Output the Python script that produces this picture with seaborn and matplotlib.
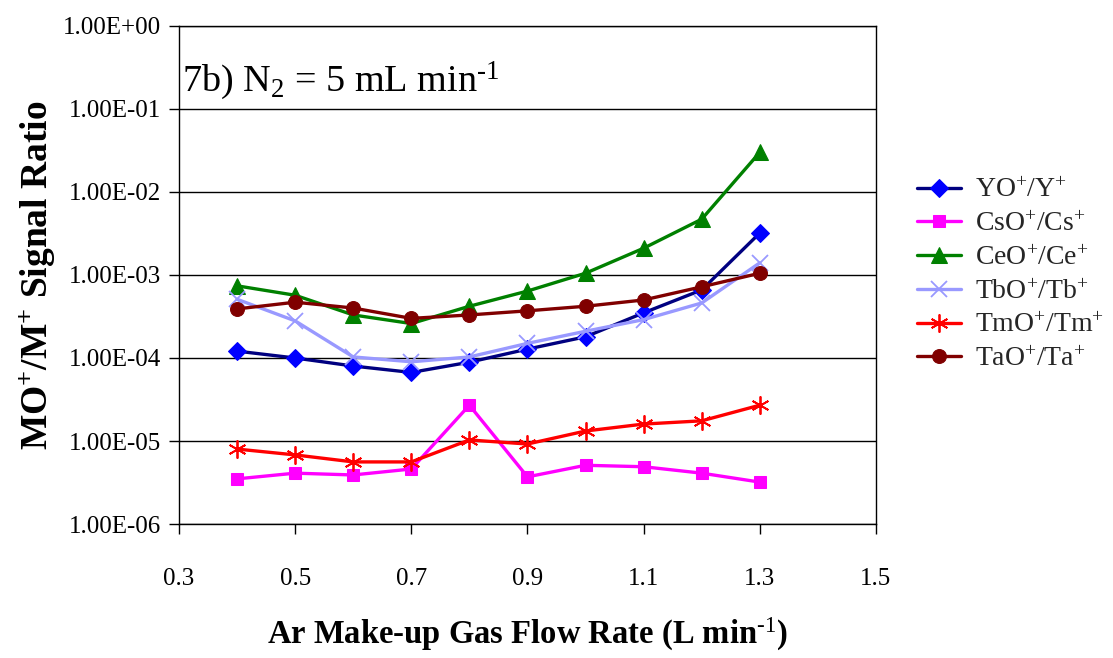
import numpy as np
import pandas as pd
import matplotlib
matplotlib.use("Agg")
import matplotlib.pyplot as plt
import seaborn as sns
from matplotlib.ticker import FixedLocator, FuncFormatter

# Ar make-up gas flow rate (L/min)
flow = [0.4, 0.5, 0.6, 0.7, 0.8, 0.9, 1.0, 1.1, 1.2, 1.3]

# Oxide ratio MO+/M+ for each element
yo = [1.21e-4, 1.0e-4, 8.0e-5, 6.7e-5, 8.9e-5, 1.28e-4, 1.8e-4, 3.5e-4, 6.6e-4, 3.2e-3]
cso = [3.5e-6, 4.1e-6, 3.9e-6, 4.6e-6, 2.7e-5, 3.7e-6, 5.1e-6, 4.9e-6, 4.1e-6, 3.2e-6]
ceo = [7.4e-4, 5.7e-4, 3.3e-4, 2.6e-4, 4.2e-4, 6.4e-4, 1.05e-3, 2.1e-3, 4.7e-3, 3.0e-2]
tbo = [5.1e-4, 2.8e-4, 1.03e-4, 9.0e-5, 1.03e-4, 1.5e-4, 2.1e-4, 2.9e-4, 4.6e-4, 1.4e-3]
tmo = [8.0e-6, 6.8e-6, 5.6e-6, 5.6e-6, 1.03e-5, 9.2e-6, 1.32e-5, 1.6e-5, 1.75e-5, 2.7e-5]
tao = [3.9e-4, 4.7e-4, 4.0e-4, 3.0e-4, 3.3e-4, 3.7e-4, 4.2e-4, 5.0e-4, 7.2e-4, 1.05e-3]

labels = [r"YO$^{+}$/Y$^{+}$", r"CsO$^{+}$/Cs$^{+}$", r"CeO$^{+}$/Ce$^{+}$",
          r"TbO$^{+}$/Tb$^{+}$", r"TmO$^{+}$/Tm$^{+}$", r"TaO$^{+}$/Ta$^{+}$"]
values = [yo, cso, ceo, tbo, tmo, tao]

x_ticks = [0.3, 0.5, 0.7, 0.9, 1.1, 1.3, 1.5]
y_ticks = [1e-6, 1e-5, 1e-4, 1e-3, 1e-2, 1e-1, 1e0]

styles = [
    dict(color="#000080", marker="D", markerfacecolor="#0000FF", markeredgecolor="#0000FF", markersize=9),
    dict(color="#FF00FF", marker="s", markerfacecolor="#FF00FF", markeredgecolor="#FF00FF", markersize=9),
    dict(color="#008000", marker="^", markerfacecolor="#008000", markeredgecolor="#008000", markersize=11),
    dict(color="#9999FF", marker="x", markerfacecolor="#9999FF", markeredgecolor="#9999FF", markersize=11, markeredgewidth=1.3),
    dict(color="#FF0000", marker=(6, 2, 0), markerfacecolor="#FF0000", markeredgecolor="#FF0000", markersize=13, markeredgewidth=1.3),
    dict(color="#800000", marker="o", markerfacecolor="#800000", markeredgecolor="#800000", markersize=10),
]

sns.set_theme(style="white")
plt.rcParams["font.family"] = ["Liberation Serif", "DejaVu Serif"]
plt.rcParams["mathtext.fontset"] = "custom"
plt.rcParams["mathtext.rm"] = "Liberation Serif"
plt.rcParams["mathtext.it"] = "Liberation Serif:italic"
plt.rcParams["mathtext.bf"] = "Liberation Serif:bold"
plt.rcParams["mathtext.default"] = "regular"

fig = plt.figure(figsize=(11.13, 6.58), dpi=100)
ax = fig.add_axes([0.1608, 0.2036, 0.6262, 0.757])

df = pd.DataFrame({"flow": np.tile(flow, len(labels)),
                   "ratio": np.concatenate(values),
                   "series": np.repeat(labels, len(flow))})

for lab, st in zip(labels, styles):
    sub = df[df["series"] == lab]
    sns.lineplot(data=sub, x="flow", y="ratio", ax=ax, linewidth=2.4, label=lab, **st)

ax.set_yscale("log")
ax.set_xlim(0.3, 1.5)
ax.set_ylim(1e-6, 1e0)
ax.yaxis.set_major_locator(FixedLocator(y_ticks))
ax.yaxis.set_minor_locator(FixedLocator([]))
ax.yaxis.set_major_formatter(FuncFormatter(lambda v, p: f"{v:.2E}"))
ax.set_xticks(x_ticks)
ax.set_xticklabels([f"{t:.1f}" for t in x_ticks])

ax.grid(axis="y", color="black", linewidth=1.0)
ax.grid(axis="x", visible=False)
for s in ax.spines.values():
    s.set_color("black")
    s.set_linewidth(1.0)
    s.set_visible(True)

ax.tick_params(axis="both", which="major", direction="out", length=7, width=1.0,
               color="black", labelsize=18, labelcolor="black", pad=6)
ax.tick_params(axis="y", left=True)
ax.tick_params(axis="x", bottom=True, pad=25)

ax.set_xlabel(r"Ar Make-up Gas Flow Rate (L min$^{\text{-1}}$)", fontsize=23.5, fontweight="bold",
              color="black", labelpad=18)
ax.set_ylabel(r"MO$^{+}$/M$^{+}$ Signal Ratio", fontsize=27, fontweight="bold",
              color="black", labelpad=4)

ax.text(0.005, 0.89, r"7b) N$_{2}$ = 5 mL min$^{\text{-1}}$", transform=ax.transAxes,
        fontsize=27.5, color="black", ha="left", va="center")

leg = ax.legend(loc="center left", bbox_to_anchor=(1.043, 0.5), frameon=False,
                fontsize=20, handlelength=1.6, handletextpad=0.5, labelspacing=0.3,
                borderaxespad=0)

fig.savefig("out.png", dpi=100, facecolor="white")
